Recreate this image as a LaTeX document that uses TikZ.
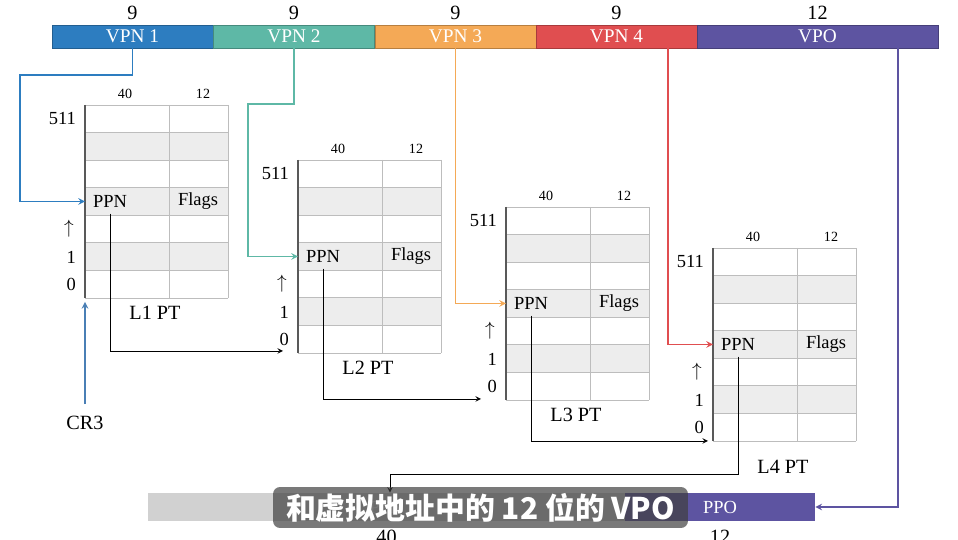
\documentclass[tikz,border=0pt]{standalone}
\usepackage{fontspec}
\setmainfont{Liberation Serif}
\newfontfamily\cjk{Noto Sans CJK SC}
\usetikzlibrary{calc}
\definecolor{vpnA}{HTML}{2D7DC0}
\definecolor{vpnB}{HTML}{5EB8A6}
\definecolor{vpnC}{HTML}{F4A956}
\definecolor{vpnD}{HTML}{E04E50}
\definecolor{vpoC}{HTML}{5D54A1}
\definecolor{rowgray}{HTML}{EDEDED}
\definecolor{gridgray}{HTML}{BDBDBD}
\definecolor{crcol}{HTML}{4A7FB5}

\begin{document}
\begin{tikzpicture}[>=stealth, x=0.02cm, y=-0.02cm,
  seg/.style={fill=#1, draw=#1!75!black, line width=0.5pt, text=white,
    minimum height=0.46cm, inner sep=0pt, font=\fontsize{11}{13}\selectfont},
  bits/.style={font=\fontsize{11.5}{13}\selectfont},
  head/.style={font=\fontsize{8}{9}\selectfont},
  idx/.style={font=\fontsize{10.5}{12}\selectfont, anchor=east},
  cell/.style={font=\fontsize{10.5}{12}\selectfont},
  ptname/.style={font=\fontsize{11.5}{13}\selectfont},
  link/.style={line width=0.7pt}]
  \useasboundingbox (0,0) rectangle (958,540);

  % Virtual address
  \node[seg=vpnA, minimum width=3.22cm] (vpn1) at (132.5,36.5) {VPN 1};
  \node[seg=vpnB, minimum width=3.22cm] (vpn2) at (294,36.5) {VPN 2};
  \node[seg=vpnC, minimum width=3.22cm] (vpn3) at (455.5,36.5) {VPN 3};
  \node[seg=vpnD, minimum width=3.22cm] (vpn4) at (616.5,36.5) {VPN 4};
  \node[seg=vpoC, minimum width=4.82cm] (vpo) at (817.5,36.5) {VPO};
  \node[bits] (w1) at (132.5,13) {9};
  \node[bits] (w2) at (294,13) {9};
  \node[bits] (w3) at (455.5,13) {9};
  \node[bits] (w4) at (616.5,13) {9};
  \node[bits] (w5) at (817.5,13) {12};

  % Page tables
  \foreach \i/\X/\Y/\L in {1/85/105/208, 2/298/160/208, 3/506/207/208, 4/713/248/219} {
    \foreach \r in {1,3,5}
      \fill[rowgray] (\X,\Y+\r*27.57) rectangle (\X+143,\Y+\r*27.57+27.57);
    \foreach \r in {0,...,7}
      \draw[gridgray] (\X,\Y+\r*27.57) -- (\X+143,\Y+\r*27.57);
    \draw[gridgray] (\X+84,\Y) -- (\X+84,\Y+193) (\X+143,\Y) -- (\X+143,\Y+193);
    \draw[black!65, line width=0.6pt] (\X,\Y) -- (\X,\Y+193);
    \node[head] (colA\i) at (\X+40,\Y-11) {40};
    \node[head] (colB\i) at (\X+118,\Y-11) {12};
    \node[idx] (top\i) at (\X-3,\Y+14) {511};
    \node[font=\fontsize{10.5}{12}\selectfont] (up\i) at (\X-16,\Y+124) {$\uparrow$};
    \node[idx] (one\i) at (\X-3,\Y+152) {1};
    \node[idx] (zero\i) at (\X-3,\Y+179) {0};
    \node[cell] (ppn\i) at (\X+25,\Y+96.5) {PPN};
    \node[cell] (flags\i) at (\X+113,\Y+96.5) {Flags};
    \node[ptname] (pt\i) at (\X+70,\Y+\L) {L\i{} PT};
    \coordinate (in\i) at (\X,\Y+96.5);
    \coordinate (base\i) at (\X,\Y+193);
  }

  % Physical address
  \node[fill=black!18, minimum width=9.54cm, minimum height=0.56cm, inner sep=0pt,
    text=white, cell] (ppnbar) at (386.5,507) {PPN};
  \node[fill=vpoC, minimum width=3.8cm, minimum height=0.56cm, inner sep=0pt,
    text=white, cell] (ppo) at (720,507) {PPO};
  \node[bits] (w6) at (386.5,537) {40};
  \node[bits] (w7) at (720,537) {12};

  % Index lines
  \draw[link, vpnA, ->] (vpn1.south) |- (20,75) |- (in1);
  \draw[link, vpnB, ->] (vpn2.south) |- (248,104) |- (in2);
  \draw[link, vpnC, ->] (vpn3.south) |- (in3);
  \draw[link, vpnD, ->] ($(vpn4.south)+(51.5,0)$) |- (in4);
  \draw[link, vpoC, ->] ($(vpo.south)+(80.5,0)$) |- (ppo.east);

  % CR3
  \node[bits] (cr3) at (85,423) {CR3};
  \draw[link, crcol, ->] ($(cr3.north)+(0,-6)$) -- ($(base1)+(0,4)$);

  % Next level tables
  \draw[->] (ppn1.south) |- ($(base2)+(-15,-2)$);
  \draw[->] (ppn2.south) |- ($(base3)+(-25,-1)$);
  \draw[->] (ppn3.south) |- ($(base4)+(-5,0)$);
  \coordinate (turn) at (390,474);
  \draw[->] (ppn4.south) |- (turn) -- (turn |- ppnbar.north);

  % Subtitle
  \node[fill=black!75, fill opacity=0.7, text opacity=1, text=white, rounded corners=4pt,
    minimum width=8.3cm, minimum height=0.82cm, inner sep=2pt] (sub) at (480.5,507.5)
    {\cjk\bfseries\fontsize{17}{20}\selectfont 和虚拟地址中的 12 位的 VPO};
\end{tikzpicture}
\end{document}
